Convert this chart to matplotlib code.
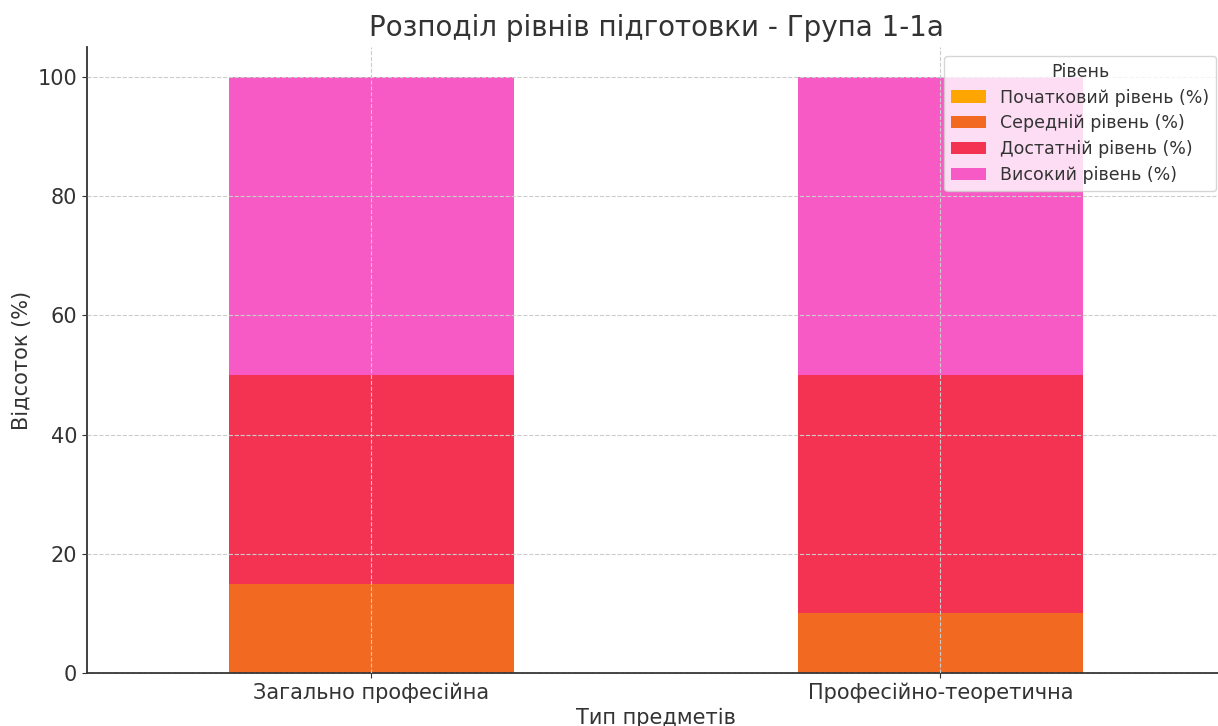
import matplotlib.pyplot as plt
import numpy as np

categories = ["Загально професійна", "Професійно-теоретична"]
levels = ["Початковий рівень (%)", "Середній рівень (%)", "Достатній рівень (%)", "Високий рівень (%)"]
initial = [0, 0]
medium = [15, 10]
sufficient = [35, 40]
high = [50, 50]
colors = ["#FFA500", "#F26A21", "#F43353", "#F75AC4"]

plt.rcParams['font.family'] = ['DejaVu Sans']
plt.rcParams['text.color'] = '#333333'
plt.rcParams['axes.labelcolor'] = '#333333'
plt.rcParams['xtick.color'] = '#333333'
plt.rcParams['ytick.color'] = '#333333'

fig = plt.figure(figsize=(12.18, 7.26), dpi=100)
ax = fig.add_axes([0.0714, 0.073, 0.9343, 0.862])

x = np.arange(len(categories))
bottom = np.zeros(len(categories))
for name, vals, c in zip(levels, [initial, medium, sufficient, high], colors):
    ax.bar(x, vals, width=0.5, bottom=bottom, color=c, label=name)
    bottom += np.array(vals)

ax.set_xlim(-0.5, 1.5)
ax.set_ylim(0, 105)
ax.set_xticks(x)
ax.set_xticklabels(categories, fontsize=15)
ax.tick_params(axis='y', labelsize=15)
ax.set_xlabel("Тип предметів", fontsize=15, labelpad=3)
ax.set_ylabel("Відсоток (%)", fontsize=15)
ax.set_title("Розподіл рівнів підготовки - Група 1-1а", fontsize=20, pad=8)

ax.grid(True, linestyle='--', color='#cccccc', linewidth=0.8)
ax.set_axisbelow(False)
for s in ['top', 'right']:
    ax.spines[s].set_visible(False)
for s in ['left', 'bottom']:
    ax.spines[s].set_linewidth(1.3)
    ax.spines[s].set_color('#333333')

leg = ax.legend(title="Рівень", loc='upper right', fontsize=12.5, title_fontsize=12.5,
                framealpha=0.8, labelspacing=0.45,
                bbox_to_anchor=(1.0055, 0.935), bbox_transform=fig.transFigure)

plt.savefig("out.png", dpi=100)
